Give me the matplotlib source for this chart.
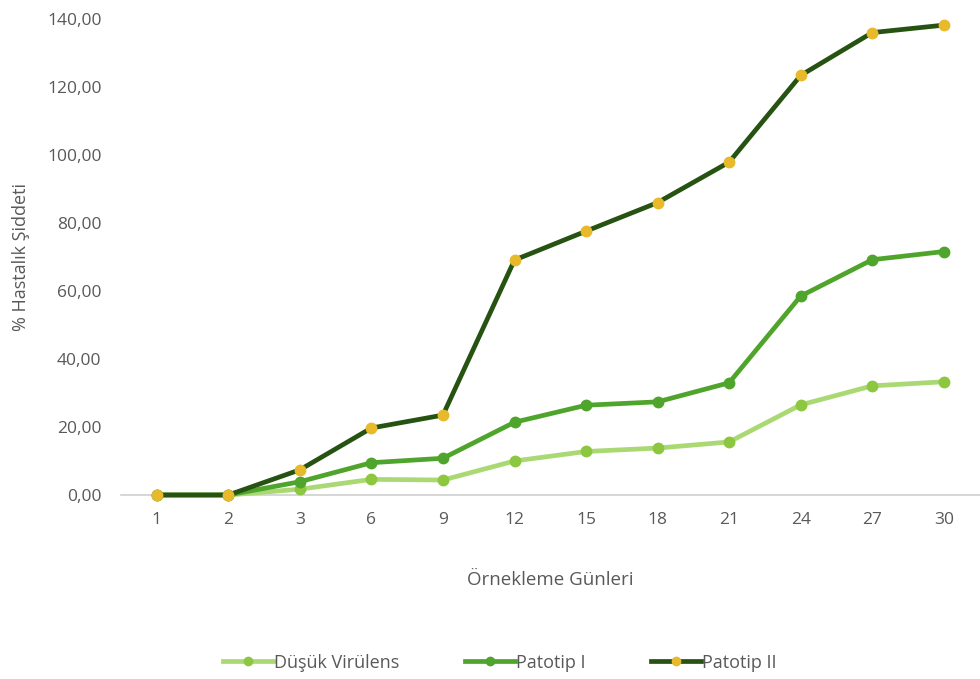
import matplotlib
matplotlib.use("Agg")
import matplotlib.pyplot as plt
from matplotlib.ticker import FuncFormatter

plt.rcParams['font.family'] = ['Open Sans', 'DejaVu Sans']

days = ["1", "2", "3", "6", "9", "12", "15", "18", "21", "24", "27", "30"]
dusuk = [0, 0, 1.7, 4.6, 4.4, 10.0, 12.8, 13.8, 15.6, 26.5, 32.1, 33.3]
patotip1 = [0, 0, 3.9, 9.5, 10.8, 21.4, 26.4, 27.4, 33.0, 58.5, 69.2, 71.6]
patotip2 = [0, 0, 7.4, 19.7, 23.5, 69.1, 77.6, 86.0, 97.9, 123.4, 136.0, 138.2]

series = [
    ("Düşük Virülens", dusuk, "#aad974", "#8dc63f"),
    ("Patotip I", patotip1, "#4fa52c", "#4fa52c"),
    ("Patotip II", patotip2, "#265212", "#e8b92a"),
]

fig = plt.figure(figsize=(9.8, 6.79), dpi=100)
ax = fig.add_axes([0.1235, 0.271, 0.876, 0.701])

x = list(range(len(days)))
for name, vals, lc, mc in series:
    ax.plot(x, vals, color=lc, lw=3.4, marker="o", ms=7.5,
            markerfacecolor=mc, markeredgecolor=mc, label=name,
            clip_on=False, zorder=3)

ax.set_xlim(-0.5, len(days) - 0.5)
ax.set_ylim(0, 140)
ax.set_yticks(range(0, 141, 20))
ax.yaxis.set_major_formatter(FuncFormatter(lambda v, p: f"{v:.2f}".replace(".", ",")))
ax.set_xticks(x)
ax.set_xticklabels(days)

for s in ["top", "right", "left"]:
    ax.spines[s].set_visible(False)
ax.spines["bottom"].set_color("#d0d0d0")
ax.spines["bottom"].set_linewidth(1.2)
ax.tick_params(axis="both", length=0, labelsize=12.5, colors="#595959")
ax.tick_params(axis="y", pad=14)
ax.tick_params(axis="x", pad=12)

ax.set_ylabel("% Hastalık Şiddeti", fontsize=13, color="#595959", labelpad=12)
ax.set_xlabel("Örnekleme Günleri", fontsize=13.5, color="#595959", labelpad=31)

leg = fig.legend(loc="center", bbox_to_anchor=(0.51, 0.024), ncol=3, frameon=False,
                 fontsize=13, handlelength=2.8, columnspacing=3.6, handletextpad=0.05,
                 markerscale=0.8)
for t in leg.get_texts():
    t.set_color("#595959")

fig.savefig("out.png", dpi=100, facecolor="white")
